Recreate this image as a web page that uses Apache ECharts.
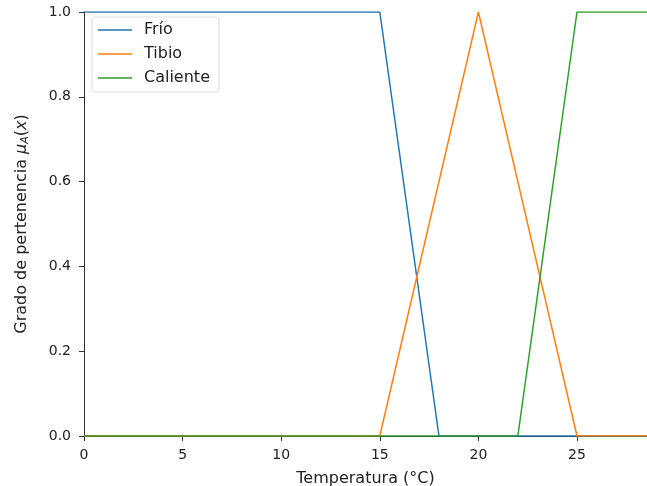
<!DOCTYPE html>
<html><head><meta charset="utf-8">
<script src="https://cdn.jsdelivr.net/npm/echarts@6/dist/echarts.min.js"></script>
<style>html,body{margin:0;padding:0;background:#fff}#c{width:647px;height:486px}</style>
</head><body><div id="c"></div>
<script>
const seriesNames = ['Frío', 'Tibio', 'Caliente'];
const frioX = [0, 15, 18, 30];
const frioY = [1, 1, 0, 0];
const tibioX = [0, 15, 20, 25, 30];
const tibioY = [0, 0, 1, 0, 0];
const calienteX = [0, 22, 25, 30];
const calienteY = [0, 0, 1, 1];
const xTicks = [0, 5, 10, 15, 20, 25];
const yTicks = [0, 0.2, 0.4, 0.6, 0.8, 1.0];
const colors = ['#1f77b4', '#ff7f0e', '#2ca02c'];

function pairs(xs, ys) { return xs.map((x, i) => [x, ys[i]]); }
const font = 'DejaVu Sans';
const chart = echarts.init(document.getElementById('c'));
chart.setOption({
  animation: false,
  color: colors,
  textStyle: { fontFamily: font },
  grid: { left: 84, right: 0, top: 12, bottom: 50, containLabel: false, outerBoundsMode: 'none' },
  legend: {
    left: 92, top: 17, orient: 'vertical',
    data: seriesNames,
    icon: 'rect', itemWidth: 34, itemHeight: 1.6, itemGap: 8,
    padding: [5, 9, 6, 6],
    borderColor: '#dcdcdc', borderWidth: 1, borderRadius: 3,
    backgroundColor: 'rgba(255,255,255,0.8)',
    textStyle: { fontFamily: font, fontSize: 16, color: '#222', lineHeight: 16, padding: [0, 0, 0, 7] }
  },
  xAxis: {
    type: 'value', min: 0, max: 28.55, interval: 5,
    name: 'Temperatura (°C)', nameLocation: 'middle', nameGap: 35,
    nameTextStyle: { fontFamily: font, fontSize: 16, color: '#222' },
    axisLine: { show: true, lineStyle: { color: '#333', width: 1 } },
    axisTick: { show: true, length: 5, lineStyle: { color: '#333' } },
    axisLabel: { fontFamily: font, fontSize: 14, color: '#222', margin: 12,
      formatter: v => xTicks.includes(v) ? String(v) : '' , showMaxLabel: false},
    splitLine: { show: false }
  },
  yAxis: {
    type: 'value', min: 0, max: 1, interval: 0.2,
    name: 'Grado de pertenencia {i|μ}{s|A}{n|(}{i|x}{n|)}', nameLocation: 'middle', nameGap: 53, nameRotate: 90,
    nameTextStyle: { fontFamily: font, fontSize: 16, color: '#222',
      rich: {
        i: { fontFamily: font, fontSize: 16, fontStyle: 'italic', color: '#222' },
        s: { fontFamily: font, fontSize: 11, fontStyle: 'italic', color: '#222', padding: [7, 0, 0, 0] },
        n: { fontFamily: font, fontSize: 16, color: '#222' }
      } },
    axisLine: { show: true, lineStyle: { color: '#333', width: 1 } },
    axisTick: { show: true, length: 5, lineStyle: { color: '#333' } },
    axisLabel: { fontFamily: font, fontSize: 14, color: '#222', margin: 13,
      formatter: v => yTicks.some(t => Math.abs(t - v) < 1e-9) ? v.toFixed(1) : '' },
    splitLine: { show: false }
  },
  series: [
    { name: seriesNames[0], type: 'line', data: pairs(frioX, frioY), showSymbol: false, clip: true, lineStyle: { width: 1.5 } },
    { name: seriesNames[1], type: 'line', data: pairs(tibioX, tibioY), showSymbol: false, clip: true, lineStyle: { width: 1.5 } },
    { name: seriesNames[2], type: 'line', data: pairs(calienteX, calienteY), showSymbol: false, clip: true, lineStyle: { width: 1.5 } }
  ]
});
</script></body></html>
